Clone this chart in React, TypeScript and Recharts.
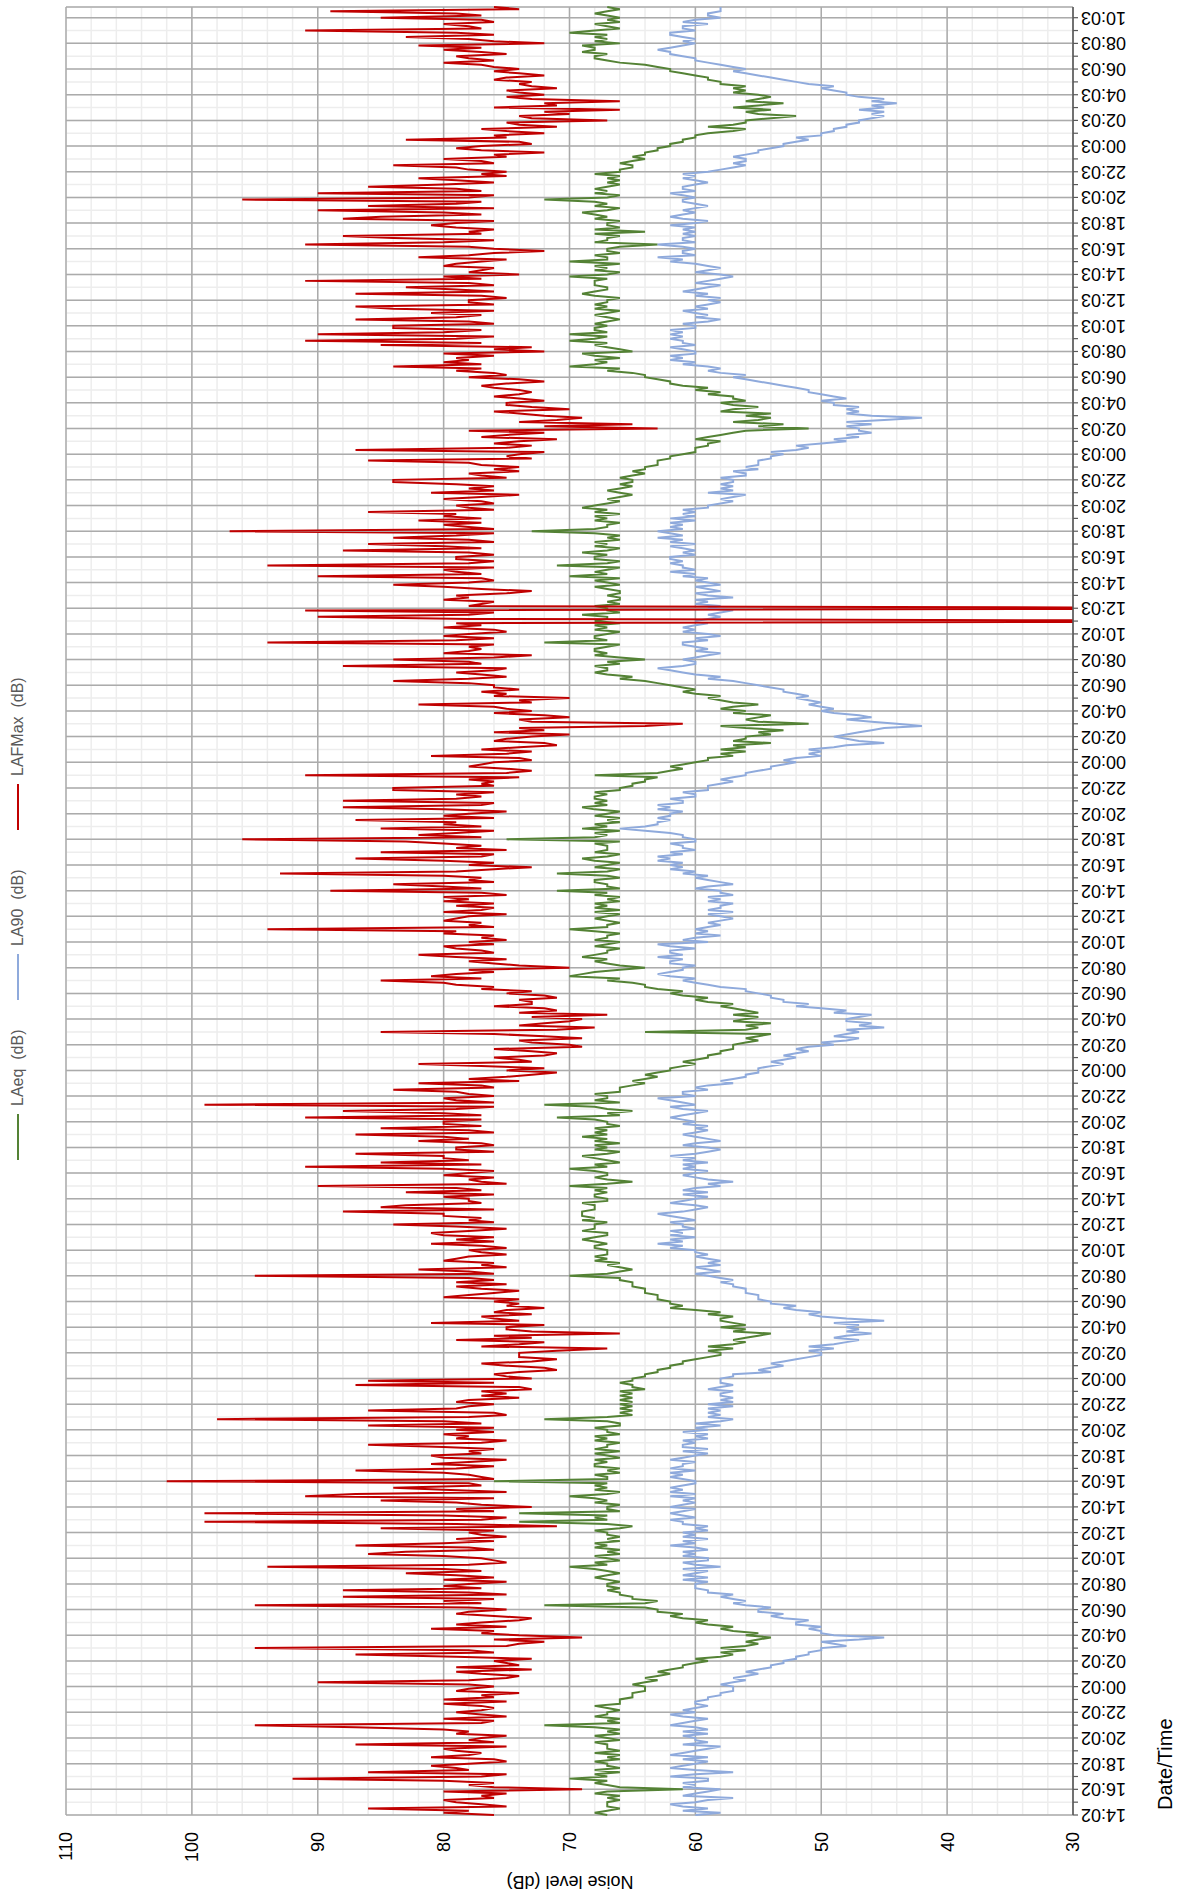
import React from 'react';
import { LineChart, Line, XAxis, YAxis, CartesianGrid } from 'recharts';

const TIME_LABELS = [
  '14:02', '16:02', '18:02', '20:02', '22:02',
  '00:02', '02:02', '04:02', '06:02', '08:02', '10:02', '12:02', '14:02', '16:02', '18:02', '20:02', '22:02',
  '00:02', '02:02', '04:02', '06:02', '08:02', '10:02', '12:02', '14:02', '16:02', '18:02', '20:02', '22:02',
  '00:02', '02:02', '04:02', '06:02', '08:02', '10:02', '12:02', '14:02', '16:02', '18:02', '20:02', '22:02',
  '00:02', '02:02', '04:02', '06:02', '08:02', '10:02', '12:03', '14:03', '16:03', '18:03', '20:03', '22:03',
  '00:03', '02:03', '04:03', '06:03', '08:03', '10:03', '12:03', '14:03', '16:03', '18:03', '20:03', '22:03',
  '00:03', '02:03', '04:03', '06:03', '08:03', '10:03',
];

// 10-minute readings, one row per 2-hour label interval
const LAFMAX = [
  76, 80, 78, 86, 75, 77, 79, 80, 76, 77, 75, 80,
  69, 76, 78, 76, 80, 92, 77, 75, 86, 78, 79, 81,
  78, 75, 76, 81, 78, 77, 79, 80, 75, 87, 76, 78,
  77, 75, 79, 78, 80, 87, 95, 77, 76, 80, 75, 77,
  79, 77, 76, 77, 80, 75, 80, 76, 77, 74, 79, 78,
  76, 78, 90, 78, 75, 74, 77, 79, 73, 79, 74, 75,
  76, 73, 79, 87, 76, 78, 95, 75, 74, 72, 76, 69,
  74, 77, 76, 81, 75, 79, 77, 74, 73, 76, 79, 78,
  75, 78, 95, 77, 80, 76, 88, 75, 78, 88, 77, 80,
  78, 75, 80, 76, 79, 83, 77, 80, 94, 78, 75, 76,
  77, 80, 86, 83, 76, 78, 87, 80, 76, 79, 75, 77,
  78, 76, 85, 71, 79, 99, 77, 75, 80, 99, 76, 79,
  73, 77, 79, 85, 76, 91, 87, 75, 80, 84, 77, 78,
  102, 76, 77, 78, 80, 87, 79, 76, 81, 78, 75, 80,
  81, 77, 78, 76, 80, 86, 77, 75, 79, 78, 80, 76,
  79, 76, 86, 77, 80, 98, 78, 75, 76, 86, 79, 78,
  76, 79, 78, 74, 77, 75, 77, 73, 74, 87, 76, 86,
  73, 75, 76, 74, 71, 72, 75, 77, 73, 71, 74, 74,
  74, 71, 67, 77, 74, 72, 79, 73, 76, 66, 73, 75,
  75, 72, 81, 74, 76, 77, 73, 76, 75, 72, 75, 74,
  76, 74, 80, 78, 76, 74, 77, 79, 75, 79, 76, 78,
  95, 76, 78, 82, 75, 77, 76, 80, 79, 78, 75, 77,
  78, 75, 77, 81, 76, 79, 76, 80, 81, 78, 75, 79,
  84, 76, 78, 77, 80, 80, 88, 76, 85, 83, 77, 78,
  78, 80, 76, 83, 77, 79, 90, 75, 77, 78, 76, 80,
  78, 76, 80, 91, 77, 85, 78, 80, 80, 87, 76, 79,
  79, 76, 77, 82, 78, 80, 87, 76, 78, 85, 77, 80,
  80, 77, 91, 77, 80, 88, 79, 76, 99, 76, 79, 80,
  76, 78, 79, 84, 76, 77, 82, 74, 78, 75, 73, 71,
  75, 72, 77, 82, 73, 74, 76, 72, 71, 73, 76, 69,
  70, 73, 74, 69, 72, 76, 85, 71, 68, 74, 72, 70,
  69, 73, 67, 74, 71, 72, 76, 73, 73, 74, 71, 72,
  75, 73, 77, 76, 79, 80, 85, 77, 81, 79, 76, 78,
  70, 74, 76, 78, 75, 79, 82, 76, 77, 79, 80, 76,
  78, 75, 77, 76, 80, 79, 94, 76, 78, 77, 80, 79,
  78, 75, 80, 77, 76, 79, 76, 80, 78, 80, 75, 77,
  89, 77, 80, 84, 76, 78, 77, 80, 93, 79, 76, 73,
  78, 76, 80, 87, 77, 76, 85, 75, 79, 77, 80, 83,
  96, 77, 82, 79, 76, 85, 77, 80, 79, 87, 76, 80,
  78, 75, 80, 88, 77, 76, 88, 79, 77, 79, 76, 84,
  84, 76, 77, 76, 78, 74, 91, 75, 73, 75, 78, 77,
  76, 73, 74, 81, 75, 73, 77, 74, 71, 72, 76, 75,
  73, 70, 76, 72, 74, 64, 61, 73, 74, 70, 72, 76,
  73, 75, 76, 82, 73, 74, 70, 76, 75, 77, 74, 76,
  76, 78, 84, 78, 75, 77, 79, 76, 75, 88, 77, 78,
  84, 76, 73, 80, 78, 77, 78, 76, 94, 79, 76, 80,
  78, 75, 76, 80, 77, 79, 0, 78, 90, 78, 76, 91,
  0, 78, 77, 76, 80, 78, 79, 75, 73, 77, 80, 84,
  78, 76, 77, 90, 77, 79, 80, 76, 94, 78, 76, 79,
  79, 76, 78, 88, 77, 80, 86, 76, 78, 84, 79, 76,
  97, 76, 78, 80, 77, 82, 77, 80, 79, 86, 76, 78,
  79, 76, 77, 80, 77, 74, 81, 76, 78, 76, 79, 84,
  84, 75, 77, 78, 74, 76, 74, 77, 78, 86, 73, 75,
  74, 72, 87, 75, 73, 76, 74, 71, 77, 75, 72, 78,
  63, 72, 65, 74, 71, 69, 72, 74, 76, 70, 73, 75,
  75, 72, 74, 76, 74, 73, 74, 76, 77, 75, 72, 74,
  78, 75, 76, 79, 77, 84, 77, 80, 78, 79, 76, 80,
  72, 76, 73, 85, 77, 91, 79, 76, 90, 80, 77, 84,
  84, 76, 78, 87, 79, 77, 81, 76, 84, 87, 76, 78,
  78, 75, 77, 87, 76, 79, 83, 76, 78, 91, 77, 80,
  74, 78, 77, 76, 80, 79, 77, 75, 82, 78, 76, 72,
  76, 78, 91, 80, 76, 84, 88, 77, 78, 76, 79, 81,
  79, 76, 88, 85, 77, 80, 90, 76, 86, 79, 77, 96,
  78, 76, 90, 77, 79, 86, 80, 76, 79, 82, 75, 77,
  75, 78, 79, 84, 76, 77, 80, 75, 76, 72, 77, 79,
  77, 73, 74, 83, 75, 76, 72, 75, 77, 71, 74, 75,
  67, 73, 74, 70, 72, 66, 76, 71, 72, 66, 73, 75,
  72, 74, 75, 71, 73, 74, 73, 76, 75, 72, 74, 76,
  74, 76, 77, 80, 76, 78, 79, 75, 77, 80, 77, 82,
  72, 76, 78, 83, 76, 79, 91, 77, 78, 80, 76, 77,
  85, 77, 79, 89, 74, 76,
];

const LAEQ = [
  67, 68, 67, 66, 67, 67, 67, 66, 67, 66, 68, 67,
  61, 66, 67, 68, 67, 70, 67, 68, 66, 68, 66, 67,
  67, 68, 66, 67, 66, 68, 66, 67, 67, 67, 68, 66,
  67, 68, 66, 67, 66, 68, 72, 66, 67, 66, 68, 67,
  67, 66, 67, 68, 66, 66, 66, 65, 65, 65, 64, 64,
  64, 65, 64, 63, 64, 63, 62, 63, 62, 61, 61, 60,
  59, 60, 58, 57, 58, 56, 58, 56, 55, 56, 55, 54,
  56, 55, 57, 58, 57, 59, 60, 59, 61, 62, 61, 63,
  63, 64, 72, 64, 63, 65, 65, 66, 66, 67, 66, 67,
  67, 66, 67, 68, 67, 66, 67, 68, 70, 67, 68, 66,
  67, 68, 66, 67, 66, 68, 67, 68, 66, 67, 66, 67,
  67, 68, 66, 65, 67, 74, 67, 68, 67, 74, 66, 67,
  67, 66, 68, 67, 68, 70, 67, 66, 68, 67, 68, 67,
  76, 67, 67, 68, 66, 67, 66, 68, 68, 67, 68, 66,
  67, 68, 66, 68, 67, 67, 66, 68, 67, 68, 66, 67,
  67, 68, 66, 66, 67, 72, 67, 65, 66, 65, 66, 65,
  66, 65, 66, 65, 66, 65, 66, 64, 65, 65, 66, 65,
  65, 64, 64, 63, 63, 62, 62, 61, 61, 60, 59, 58,
  58, 59, 57, 59, 57, 56, 57, 56, 55, 54, 57, 56,
  58, 56, 57, 58, 58, 57, 59, 58, 60, 62, 61, 62,
  62, 63, 63, 63, 64, 64, 64, 65, 65, 65, 66, 66,
  70, 67, 66, 65, 66, 67, 66, 68, 67, 68, 67, 67,
  67, 68, 68, 67, 68, 69, 68, 67, 67, 69, 68, 68,
  68, 67, 69, 68, 69, 69, 69, 68, 68, 68, 69, 67,
  67, 68, 68, 67, 68, 67, 70, 67, 65, 67, 68, 67,
  67, 68, 70, 67, 68, 66, 67, 68, 69, 67, 66, 68,
  67, 68, 66, 68, 67, 69, 67, 68, 67, 68, 66, 67,
  67, 68, 71, 66, 67, 65, 67, 68, 72, 66, 68, 67,
  67, 68, 66, 66, 66, 65, 64, 65, 64, 63, 64, 63,
  62, 62, 61, 60, 61, 60, 59, 59, 58, 58, 57, 57,
  57, 56, 55, 56, 55, 54, 64, 56, 55, 56, 54, 57,
  56, 55, 57, 55, 56, 57, 58, 57, 59, 60, 59, 61,
  62, 61, 63, 64, 64, 65, 67, 66, 70, 69, 68, 66,
  64, 66, 67, 68, 67, 69, 68, 67, 67, 66, 68, 67,
  66, 68, 67, 67, 66, 68, 70, 67, 67, 66, 67, 68,
  67, 66, 68, 66, 68, 67, 68, 66, 67, 66, 68, 67,
  71, 66, 67, 67, 68, 68, 66, 67, 71, 67, 66, 68,
  67, 66, 68, 69, 67, 66, 68, 67, 67, 67, 68, 66,
  75, 68, 67, 68, 66, 69, 67, 68, 66, 67, 66, 68,
  67, 66, 68, 69, 67, 68, 67, 68, 68, 67, 68, 66,
  66, 65, 65, 64, 64, 63, 68, 63, 62, 61, 62, 61,
  60, 59, 59, 57, 58, 56, 58, 56, 57, 54, 57, 56,
  56, 54, 55, 53, 56, 58, 51, 55, 56, 55, 54, 57,
  56, 58, 57, 55, 57, 58, 59, 58, 60, 61, 60, 61,
  62, 63, 64, 66, 65, 67, 68, 67, 67, 68, 66, 67,
  64, 66, 68, 67, 68, 68, 67, 66, 72, 67, 68, 68,
  67, 66, 68, 67, 68, 66, 68, 67, 67, 69, 66, 67,
  67, 68, 66, 67, 66, 66, 67, 66, 66, 67, 68, 66,
  67, 68, 66, 70, 67, 68, 67, 66, 71, 67, 66, 68,
  68, 67, 69, 67, 66, 68, 67, 68, 66, 67, 66, 68,
  73, 68, 67, 67, 66, 68, 67, 68, 66, 68, 67, 69,
  68, 67, 66, 67, 66, 65, 66, 67, 66, 65, 66, 65,
  65, 66, 65, 64, 65, 64, 64, 63, 63, 63, 62, 62,
  61, 60, 60, 60, 59, 59, 58, 60, 59, 58, 57, 56,
  51, 55, 53, 57, 55, 54, 56, 54, 58, 57, 55, 57,
  58, 56, 57, 57, 59, 58, 60, 59, 61, 62, 62, 63,
  64, 64, 65, 67, 66, 70, 68, 67, 68, 66, 68, 69,
  65, 66, 67, 68, 67, 70, 68, 67, 70, 67, 68, 68,
  67, 68, 67, 66, 67, 68, 67, 66, 68, 67, 68, 67,
  67, 66, 68, 69, 68, 67, 67, 68, 68, 68, 67, 70,
  67, 66, 68, 67, 68, 66, 70, 67, 67, 68, 66, 67,
  67, 66, 63, 68, 67, 67, 66, 68, 64, 68, 66, 67,
  67, 66, 68, 67, 68, 69, 67, 66, 68, 67, 68, 72,
  67, 66, 68, 67, 68, 67, 66, 67, 66, 67, 66, 68,
  66, 66, 65, 65, 66, 65, 64, 65, 64, 64, 63, 63,
  62, 62, 61, 61, 60, 60, 59, 57, 56, 59, 57, 56,
  56, 54, 52, 55, 56, 54, 57, 55, 53, 56, 55, 54,
  55, 57, 56, 57, 56, 58, 58, 59, 59, 60, 61, 62,
  62, 63, 64, 66, 67, 68, 68, 67, 69, 68, 68, 69,
  66, 68, 67, 68, 67, 70, 68, 66, 67, 68, 66, 67,
  66, 67, 68, 67, 66, 67,
];

const LA90 = [
  60, 58, 61, 59, 61, 62, 60, 59, 57, 61, 60, 59,
  58, 61, 60, 61, 59, 59, 62, 60, 57, 60, 62, 61,
  60, 59, 61, 59, 62, 61, 60, 59, 58, 61, 59, 60,
  60, 61, 59, 61, 59, 60, 62, 61, 60, 59, 61, 62,
  60, 61, 60, 59, 60, 60, 59, 59, 58, 58, 57, 57,
  57, 58, 57, 56, 57, 56, 55, 56, 55, 54, 54, 53,
  53, 52, 52, 51, 51, 50, 50, 48, 49, 50, 47, 45,
  49, 50, 50, 51, 50, 52, 52, 51, 53, 54, 53, 55,
  55, 54, 56, 57, 56, 57, 58, 57, 59, 59, 60, 60,
  60, 59, 61, 59, 61, 60, 59, 61, 58, 60, 61, 59,
  59, 61, 60, 61, 59, 60, 62, 60, 61, 59, 61, 60,
  61, 59, 60, 59, 61, 61, 62, 60, 61, 62, 61, 60,
  62, 61, 60, 61, 60, 62, 60, 62, 61, 62, 61, 60,
  60, 61, 62, 61, 62, 60, 62, 61, 61, 60, 62, 61,
  60, 59, 61, 59, 61, 61, 60, 61, 59, 60, 59, 61,
  59, 60, 58, 60, 58, 57, 59, 58, 59, 58, 59, 57,
  59, 57, 58, 57, 58, 58, 57, 59, 58, 57, 58, 58,
  58, 57, 57, 54, 55, 54, 53, 54, 53, 52, 51, 50,
  50, 51, 49, 51, 49, 48, 47, 49, 48, 46, 48, 47,
  48, 47, 49, 45, 48, 50, 51, 50, 52, 53, 52, 54,
  54, 55, 55, 55, 56, 56, 56, 57, 57, 58, 57, 58,
  59, 60, 58, 59, 60, 58, 59, 58, 59, 60, 59, 60,
  60, 62, 61, 63, 61, 62, 60, 62, 61, 62, 60, 61,
  61, 62, 60, 61, 62, 63, 61, 60, 59, 60, 62, 61,
  60, 59, 61, 59, 61, 60, 58, 59, 57, 59, 60, 61,
  60, 59, 61, 60, 61, 59, 61, 60, 62, 60, 59, 58,
  59, 61, 60, 58, 59, 60, 61, 60, 59, 60, 59, 61,
  60, 61, 62, 61, 60, 59, 61, 62, 60, 61, 62, 63,
  60, 61, 61, 59, 60, 59, 57, 58, 57, 56, 56, 55,
  55, 55, 54, 53, 54, 53, 52, 53, 52, 51, 52, 51,
  49, 50, 48, 47, 49, 48, 47, 48, 45, 47, 46, 48,
  48, 47, 46, 49, 48, 50, 52, 51, 53, 53, 54, 54,
  55, 56, 56, 58, 59, 60, 61, 60, 62, 63, 62, 61,
  61, 60, 62, 62, 61, 63, 61, 62, 62, 60, 62, 63,
  59, 61, 60, 58, 60, 59, 60, 59, 58, 59, 58, 57,
  58, 59, 57, 59, 58, 58, 57, 59, 58, 59, 57, 58,
  58, 60, 59, 57, 58, 59, 60, 59, 61, 60, 62, 61,
  62, 61, 63, 62, 63, 61, 62, 60, 61, 61, 62, 60,
  60, 61, 61, 62, 64, 66, 64, 63, 63, 62, 63, 62,
  62, 61, 63, 62, 63, 61, 61, 62, 60, 60, 61, 59,
  59, 59, 58, 57, 58, 57, 56, 56, 55, 54, 54, 53,
  52, 53, 52, 50, 51, 50, 51, 49, 48, 45, 47, 48,
  49, 48, 47, 46, 45, 42, 44, 46, 48, 46, 47, 49,
  50, 49, 50, 51, 50, 51, 52, 51, 52, 53, 53, 54,
  55, 56, 57, 59, 58, 60, 61, 62, 63, 61, 60, 60,
  61, 60, 59, 58, 60, 59, 60, 61, 61, 59, 60, 58,
  59, 61, 60, 61, 60, 59, 60, 59, 58, 59, 58, 57,
  59, 58, 60, 59, 60, 57, 59, 60, 58, 59, 60, 58,
  59, 60, 59, 61, 60, 62, 60, 61, 61, 62, 61, 62,
  62, 60, 61, 60, 61, 62, 60, 62, 61, 63, 61, 62,
  63, 61, 62, 61, 62, 60, 62, 60, 61, 60, 61, 59,
  59, 58, 57, 58, 57, 56, 59, 57, 58, 57, 58, 57,
  57, 58, 56, 56, 57, 55, 56, 55, 55, 55, 54, 54,
  53, 54, 52, 51, 52, 50, 48, 49, 47, 48, 46, 47,
  47, 48, 46, 48, 45, 42, 46, 48, 47, 48, 47, 49,
  49, 50, 48, 49, 50, 51, 51, 52, 53, 54, 55, 56,
  57, 56, 58, 59, 58, 59, 61, 60, 62, 61, 62, 60,
  60, 61, 62, 60, 61, 61, 62, 61, 62, 61, 62, 60,
  60, 61, 59, 58, 60, 59, 60, 61, 59, 60, 59, 58,
  59, 58, 60, 59, 61, 60, 59, 58, 60, 59, 58, 57,
  58, 60, 59, 58, 59, 60, 62, 61, 63, 60, 61, 61,
  60, 61, 63, 60, 61, 61, 60, 61, 60, 61, 60, 62,
  60, 59, 61, 62, 61, 60, 61, 60, 59, 60, 61, 61,
  60, 61, 62, 60, 61, 61, 60, 59, 60, 61, 60, 61,
  59, 58, 57, 56, 57, 56, 56, 57, 56, 55, 55, 54,
  53, 53, 52, 51, 52, 50, 50, 49, 49, 48, 48, 47,
  47, 46, 45, 46, 45, 47, 45, 46, 44, 46, 45, 47,
  48, 48, 49, 50, 49, 51, 52, 53, 54, 55, 56, 57,
  56, 57, 58, 59, 60, 60, 61, 62, 62, 63, 62, 61,
  60, 61, 60, 61, 62, 62, 60, 61, 61, 59, 61, 60,
  58, 59, 59, 58, 58, 58,
];

const Y_TICKS = [30, 40, 50, 60, 70, 80, 90, 100, 110];
const Y_MINOR_TICKS = [
  30, 32, 34, 36, 38, 40, 42, 44, 46, 48, 50, 52, 54, 56, 58, 60, 62, 64, 66, 68, 70,
  72, 74, 76, 78, 80, 82, 84, 86, 88, 90, 92, 94, 96, 98, 100, 102, 104, 106, 108, 110,
];

const SERIES = [
  { key: 'laeq', name: 'LAeq  (dB)', color: '#548235' },
  { key: 'la90', name: 'LA90  (dB)', color: '#8FAADC' },
  { key: 'lafmax', name: 'LAFMax  (dB)', color: '#C00000' },
];

const POINTS_PER_LABEL = 12;
const LAST_INDEX = LAEQ.length - 1;
const HOUR_TICKS = Array.from({ length: TIME_LABELS.length * 2 - 1 }, (_, k) => k * (POINTS_PER_LABEL / 2));
const LABEL_TICKS = TIME_LABELS.map((_, k) => k * POINTS_PER_LABEL);

const data = LAEQ.map((v, i) => ({ i, laeq: v, la90: LA90[i], lafmax: LAFMAX[i] }));

const FONT = '"Liberation Sans", Arial, Helvetica, sans-serif';

const XTick = (props: any) => {
  const { x, y, payload } = props;
  const idx = payload.value;
  if (idx % POINTS_PER_LABEL !== 0) return null;
  const label = TIME_LABELS[idx / POINTS_PER_LABEL];
  return (
    <text
      x={x}
      y={y}
      transform={`rotate(-90, ${x}, ${y})`}
      textAnchor="end"
      dominantBaseline="central"
      fontSize={18}
      fill="#000"
      fontFamily={FONT}
    >
      {label}
    </text>
  );
};

const LEGEND_POS = [743, 903, 1073];

export default function App() {
  return (
    <div
      style={{
        position: 'absolute',
        left: 0,
        top: 0,
        width: 1903,
        height: 1182,
        transformOrigin: '0 0',
        transform: 'translate(0px, 1903px) rotate(-90deg)',
        background: '#fff',
        fontFamily: FONT,
      }}
    >
      <LineChart width={1903} height={1182} data={data} margin={{ top: 66, right: 7, bottom: 0, left: 0 }}>
        <XAxis
          xAxisId="x"
          type="number"
          dataKey="i"
          domain={[0, LAST_INDEX]}
          ticks={HOUR_TICKS}
          interval={0}
          height={109}
          tickSize={5}
          tickMargin={3}
          tick={(p: any) => <XTick {...p} />}
          axisLine={{ stroke: '#595959', strokeWidth: 1.5 }}
          tickLine={{ stroke: '#595959', strokeWidth: 1.2 }}
        />
        <XAxis xAxisId="xM" type="number" dataKey="i" domain={[0, LAST_INDEX]} ticks={LABEL_TICKS} interval={0} hide />
        <YAxis
          yAxisId="y"
          type="number"
          domain={[30, 110]}
          ticks={Y_TICKS}
          interval={0}
          allowDataOverflow
          width={88}
          tickSize={6}
          tickMargin={11}
          tickLine={false}
          axisLine={false}
          tick={{ fontSize: 18, fill: '#000', fontFamily: FONT }}
        />
        <YAxis yAxisId="ym" type="number" domain={[30, 110]} ticks={Y_MINOR_TICKS} interval={0} allowDataOverflow hide />
        <CartesianGrid xAxisId="x" yAxisId="ym" stroke="#EDEDED" strokeWidth={1.5} />
        <CartesianGrid xAxisId="xM" yAxisId="y" stroke="#ABABAB" strokeWidth={1.5} />
        {SERIES.map((s) => (
          <Line
            key={s.key}
            xAxisId="x"
            yAxisId="y"
            type="linear"
            dataKey={s.key}
            name={s.name}
            stroke={s.color}
            strokeWidth={2}
            dot={false}
            activeDot={false}
            isAnimationActive={false}
          />
        ))}
      </LineChart>

      {SERIES.map((s, k) => (
        <div
          key={s.key}
          style={{
            position: 'absolute',
            left: LEGEND_POS[k],
            top: 8,
            height: 20,
            display: 'flex',
            alignItems: 'center',
          }}
        >
          <div style={{ width: 46, height: 2, background: s.color, marginRight: 8 }} />
          <span style={{ fontSize: 16, color: '#595959', whiteSpace: 'pre', lineHeight: '20px' }}>{s.name}</span>
        </div>
      ))}

      <div
        style={{
          position: 'absolute',
          left: 21,
          top: 570,
          transform: 'translate(-50%, -50%) rotate(-90deg)',
          fontSize: 18,
          color: '#000',
          whiteSpace: 'nowrap',
          lineHeight: '20px',
        }}
      >
        Noise level (dB)
      </div>

      <div
        style={{
          position: 'absolute',
          left: 93,
          top: 1155,
          fontSize: 20,
          color: '#000',
          whiteSpace: 'nowrap',
          lineHeight: '20px',
        }}
      >
        Date/Time
      </div>
    </div>
  );
}
